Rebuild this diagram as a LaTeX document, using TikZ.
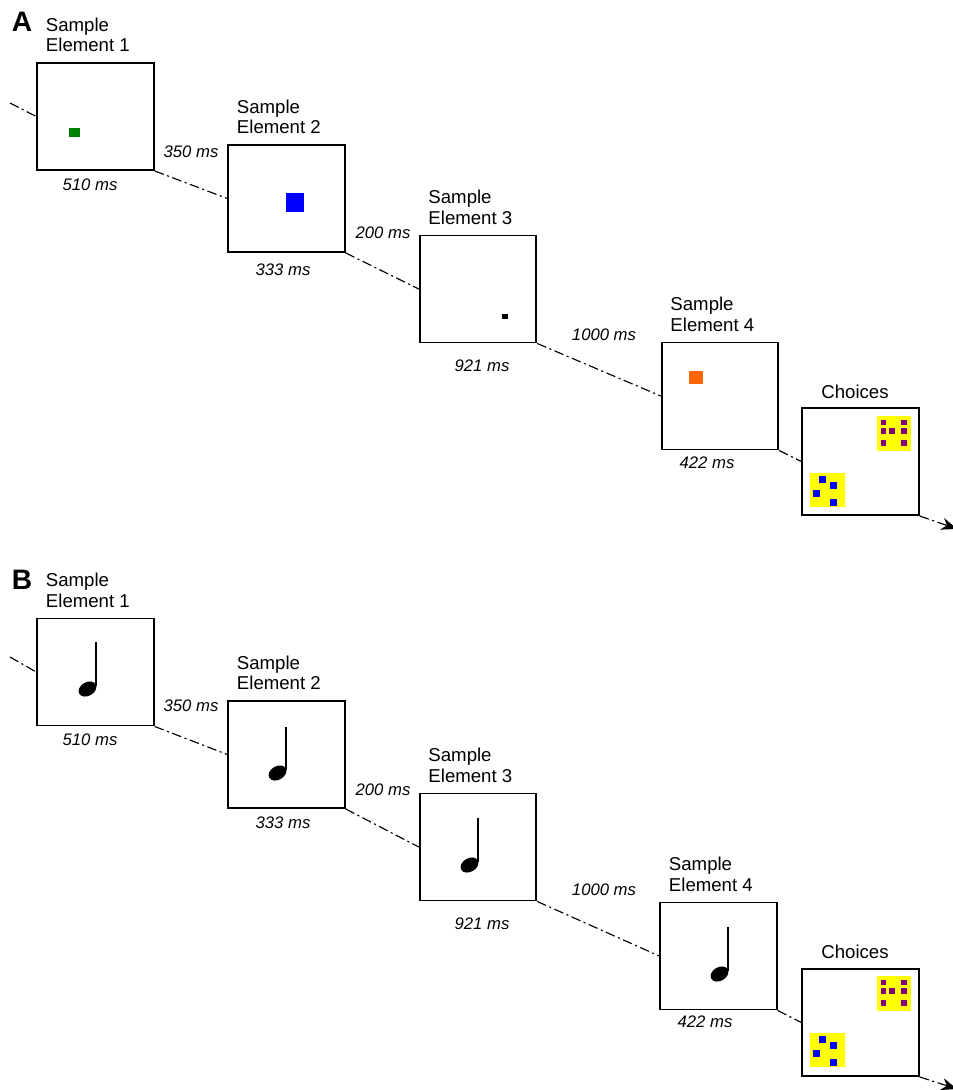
\documentclass[tikz,border=0pt]{standalone}
\usepackage{fontspec}
\setmainfont{Liberation Sans}
\usetikzlibrary{positioning,arrows.meta}

\definecolor{stimgreen}{RGB}{0,128,0}
\definecolor{stimblue}{RGB}{0,0,255}
\definecolor{stimorange}{RGB}{255,102,0}
\definecolor{stimpurple}{RGB}{128,0,128}
\definecolor{stimyellow}{RGB}{255,255,0}

\begin{document}
\begin{tikzpicture}[x=0.02cm,y=-0.02cm,
  frame/.style={draw,line width=1.1pt,minimum width=2.33cm,minimum height=2.14cm,inner sep=0pt},
  lbl/.style={align=left,inner sep=0pt,font=\fontsize{10.6}{11.6}\selectfont},
  dur/.style={inner sep=0pt,font=\fontsize{9.5}{11}\selectfont\itshape},
  dashdot/.style={line width=0.65pt,dash pattern=on 5.5pt off 2pt on 1.2pt off 2pt},
  panel/.style={inner sep=0pt,font=\fontsize{16}{18}\selectfont\bfseries},
  tip/.style={-{Stealth[length=9pt,width=7pt]}}]
  \useasboundingbox (0,0) rectangle (953,1090);

  % panel A
  \node[panel] (pa) at (22,22) {A};
  \node[frame] (a1) at (95.5,116.5) {};
  \node[frame] (a2) at (286.5,198.5) {};
  \node[frame] (a3) at (478,289) {};
  \node[frame] (a4) at (720,396) {};
  \node[frame] (ac) at (860.5,461.5) {};

  \node[lbl, above right=5.5pt and 5.3pt of a1.north west] (la1) {Sample\\Element 1};
  \node[lbl, above right=5.5pt and 5.3pt of a2.north west] (la2) {Sample\\Element 2};
  \node[lbl, above right=5.5pt and 5.3pt of a3.north west] (la3) {Sample\\Element 3};
  \node[lbl, above right=5.5pt and 5.3pt of a4.north west] (la4) {Sample\\Element 4};
  \node[lbl] (lac) at (855,392) {Choices};

  \node[dur] (ta1) at (90,185) {510 ms};
  \node[dur] (ta2) at (283,270) {333 ms};
  \node[dur] (ta3) at (482,366) {921 ms};
  \node[dur] (ta4) at (707,463) {422 ms};
  \node[dur] (ga1) at (191,152) {350 ms};
  \node[dur] (ga2) at (383,233) {200 ms};
  \node[dur] (ga3) at (604,335) {1000 ms};

  \coordinate (a0) at (10,103);
  \coordinate (aend) at (957,529);
  \draw[dashdot] (a0) -- (a1.west);
  \draw[dashdot] (a1.south east) -- (a2.west);
  \draw[dashdot] (a2.south east) -- (a3.west);
  \draw[dashdot] (a3.south east) -- (a4.west);
  \draw[dashdot] (a4.south east) -- (ac.west);
  \draw[dashdot,tip] (ac.south east) -- (aend);

  \fill[stimgreen] (69,128) rectangle (80,137);
  \fill[stimblue] (286,193) rectangle (304,212);
  \fill[black] (502,314) rectangle (508,319);
  \fill[stimorange] (689,371) rectangle (703,384);

  \fill[stimyellow] (877,416) rectangle (911,451);
  \fill[stimyellow] (810,473) rectangle (845,507);
  \foreach \x/\y in {883.5/422.5,904/422.5,883.5/431,892/431,904/431,883.5/443,904/443}
    \fill[stimpurple] (\x-2.8,\y-2.8) rectangle (\x+2.8,\y+2.8);
  \foreach \x/\y in {822/479,833/485,816/493,833/502}
    \fill[stimblue] (\x-3.5,\y-3.5) rectangle (\x+3.5,\y+3.5);

  % panel B
  \node[panel] (pb) at (22,580) {B};
  \node[frame] (b1) at (95.5,672) {};
  \node[frame] (b2) at (286.5,754.5) {};
  \node[frame] (b3) at (478,847) {};
  \node[frame] (b4) at (718.5,956) {};
  \node[frame] (bc) at (860.5,1022.5) {};

  \node[lbl, above right=5.5pt and 5.3pt of b1.north west] (lb1) {Sample\\Element 1};
  \node[lbl, above right=5.5pt and 5.3pt of b2.north west] (lb2) {Sample\\Element 2};
  \node[lbl, above right=5.5pt and 5.3pt of b3.north west] (lb3) {Sample\\Element 3};
  \node[lbl, above right=5.5pt and 5.3pt of b4.north west] (lb4) {Sample\\Element 4};
  \node[lbl] (lbc) at (855,952) {Choices};

  \node[dur] (tb1) at (90,740) {510 ms};
  \node[dur] (tb2) at (283,823) {333 ms};
  \node[dur] (tb3) at (482,924) {921 ms};
  \node[dur] (tb4) at (705,1022) {422 ms};
  \node[dur] (gb1) at (191,706) {350 ms};
  \node[dur] (gb2) at (383,790) {200 ms};
  \node[dur] (gb3) at (604,890) {1000 ms};

  \coordinate (b0) at (10,657);
  \coordinate (bend) at (957,1089);
  \draw[dashdot] (b0) -- (b1.west);
  \draw[dashdot] (b1.south east) -- (b2.west);
  \draw[dashdot] (b2.south east) -- (b3.west);
  \draw[dashdot] (b3.south east) -- (b4.west);
  \draw[dashdot] (b4.south east) -- (bc.west);
  \draw[dashdot,tip] (bc.south east) -- (bend);

  % quarter notes
  \fill[rotate around={30:(87.5,689)}] (87.5,689) ellipse (9.5 and 6.8);
  \draw[line width=1.3pt] (95.7,686) -- (95.7,642);
  \fill[rotate around={30:(277.5,773)}] (277.5,773) ellipse (9.5 and 6.8);
  \draw[line width=1.3pt] (285.7,770) -- (285.7,727);
  \fill[rotate around={30:(469.5,865)}] (469.5,865) ellipse (9.5 and 6.8);
  \draw[line width=1.3pt] (477.7,862) -- (477.7,818);
  \fill[rotate around={30:(719.5,974)}] (719.5,974) ellipse (9.5 and 6.8);
  \draw[line width=1.3pt] (727.7,971) -- (727.7,927);

  \fill[stimyellow] (877,976) rectangle (911,1011);
  \fill[stimyellow] (810,1033) rectangle (845,1067);
  \foreach \x/\y in {883.5/982.5,904/982.5,883.5/991,892/991,904/991,883.5/1003,904/1003}
    \fill[stimpurple] (\x-2.8,\y-2.8) rectangle (\x+2.8,\y+2.8);
  \foreach \x/\y in {822/1039,833/1045,816/1053,833/1062}
    \fill[stimblue] (\x-3.5,\y-3.5) rectangle (\x+3.5,\y+3.5);
\end{tikzpicture}
\end{document}
